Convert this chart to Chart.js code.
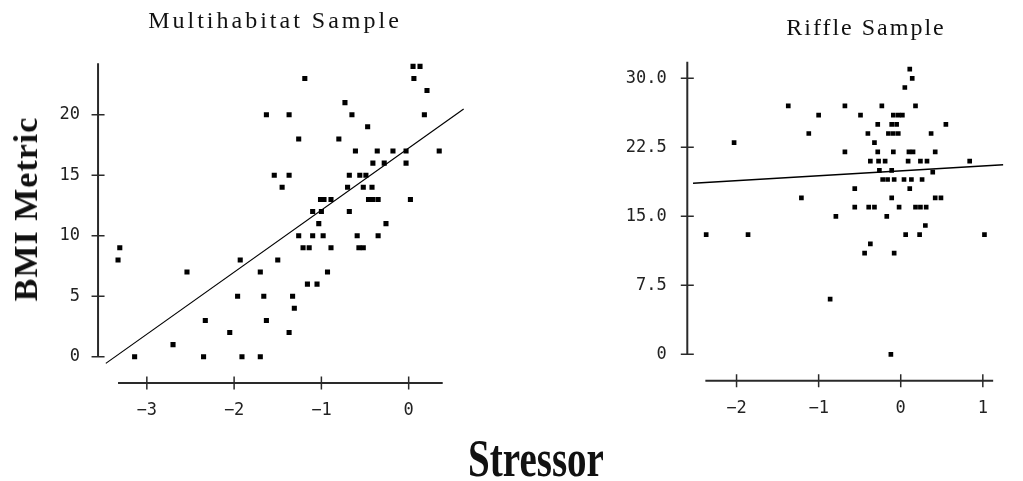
<!DOCTYPE html>
<html>
<head>
<meta charset="utf-8">
<script src="https://cdn.jsdelivr.net/npm/chart.js@4"></script>
<style>
  body { margin: 0; width: 1023px; height: 481px; background: #fff; position: relative; overflow: hidden; }
  canvas { position: absolute; top: 0; }
  #multi { left: 0; }
  #riffle { left: 490px; }
  .txt { position: absolute; font-family: "Liberation Serif", "Times New Roman", serif; color: #111; white-space: nowrap; line-height: 1; }
  #t1 { left: 275px; top: 8px; font-size: 24px; letter-spacing: 3px; transform: translateX(-50%); }
  #t2 { left: 866px; top: 15px; font-size: 24px; letter-spacing: 2px; transform: translateX(-50%); }
  #ylab { left: 26px; top: 209px; font-size: 34px; font-weight: bold; letter-spacing: 1px; transform: translate(-50%, -50%) rotate(-90deg); }
  #xlab { left: 536px; top: 433px; font-size: 52px; font-weight: bold; transform: translateX(-50%) scaleX(0.75); }
</style>
</head>
<body>
<canvas id="multi" width="490" height="440"></canvas>
<canvas id="riffle" width="533" height="440"></canvas>
<div class="txt" id="t1">Multihabitat Sample</div>
<div class="txt" id="t2">Riffle Sample</div>
<div class="txt" id="ylab">BMI Metric</div>
<div class="txt" id="xlab">Stressor</div>
<script>
// Multihabitat sample (stressor vs BMI metric)
const multiX = [-3.31, -3.33, -2.54, -1.93, -1.70, -1.50, -1.96, -1.66, -2.33, -1.63, -2.05, -2.70, -3.14, -2.35, -1.91, -1.70,
  0.05, 0.13, 0.06, 0.21, -1.19, -0.73, -0.65, -1.63, -1.37, 0.18, -0.47, -1.26, -0.80, -0.61, -0.36, -0.18, -0.03, 0.35,
  -0.41, -0.28, -0.03, -1.54, -1.37, -0.68, -0.56, -0.49, -1.45, -0.70, -0.52, -0.42, -1.01, -0.97, -0.89, -0.46, -0.41,
  -0.35, 0.02, -1.10, -1.00, -0.68, -1.03, -0.26, -1.26, -1.10, -0.98, -0.59, -0.35, -1.21, -1.14, -0.89, -0.57, -0.52,
  -0.93, -1.16, -1.05, -1.33, -1.31, -1.37];
const multiY = [9, 8, 7, 8, 7, 8, 5, 5, 3, 3, 2, 1, 0, 0, 0, 0,
  24, 24, 23, 22, 23, 21, 20, 20, 20, 20, 19, 18, 18, 17, 17, 17, 17, 17,
  16, 16, 16, 15, 15, 15, 15, 15, 14, 14, 14, 14, 13, 13, 13, 13, 13,
  13, 13, 12, 12, 12, 11, 11, 10, 10, 10, 10, 10, 9, 9, 9, 9, 9,
  7, 6, 6, 5, 4, 2];
const multiFitX = [-3.47, 0.63];
const multiFitY = [-0.55, 20.47];

// Riffle sample
const riffleX = [-1.37, -1.12, -2.03, -1.21, -2.37, -1.86, 0.11, 0.14, 0.05, -0.68, -0.23, 0.18, -1.00, -0.49, -0.09, -0.03,
  0.02, -0.28, -0.11, -0.05, 0.55, -0.40, -0.15, -0.09, -0.03, 0.37, -0.32, -0.68, -0.28, -0.09, 0.10, 0.15, 0.42,
  -0.37, -0.27, -0.19, 0.09, 0.24, 0.32, 0.84, -0.26, -0.11, 0.39, -0.22, -0.16, -0.08, 0.04, 0.13, 0.26, -0.56, 0.11,
  -0.11, 0.42, 0.49, -0.56, -0.39, -0.32, -0.02, 0.18, 0.24, 0.31, -0.79, -0.17, 0.30, 0.06, 0.23, 1.02, -0.37, -0.44,
  -0.08, -0.86, -0.12];
const riffleY = [27, 24, 23, 17, 13, 13, 31, 30, 29, 27, 27, 27, 26, 26, 26, 26,
  26, 25, 25, 25, 25, 24, 24, 24, 24, 24, 23, 22, 22, 22, 22, 22, 22,
  21, 21, 21, 21, 21, 21, 21, 20, 20, 19.8, 19, 19, 19, 19, 19, 19, 18, 18,
  17, 17, 17, 16, 16, 16, 16, 16, 16, 16, 15, 15, 14, 13, 13, 13, 12, 11,
  11, 6, 0];
const riffleFitX = [-2.53, 1.25];
const riffleFitY = [18.6, 20.6];

// tick labels
const multiXTicks = [-3, -2, -1, 0];
const multiYTicks = [0, 5, 10, 15, 20];
const riffleXTicks = [-2, -1, 0, 1];
const riffleYTicks = [0, 7.5, 15, 22.5, 30];

const pts = (xs, ys) => xs.map((x, i) => ({ x: x, y: ys[i] }));
const tickFont = { family: 'DejaVu Sans Mono', size: 17 };

// detached axis lines with crossing tick marks, old stats-package style
const detachedAxes = {
  id: 'detachedAxes',
  afterDraw(chart, args, o) {
    const { ctx, scales: { x, y } } = chart;
    const ax = x.getPixelForValue(o.yLineAt);
    const ay = y.getPixelForValue(o.xLineAt);
    ctx.save();
    ctx.strokeStyle = '#2a2a2a';
    ctx.lineWidth = 2;
    ctx.beginPath();
    ctx.moveTo(ax, y.getPixelForValue(o.yExtent[1]));
    ctx.lineTo(ax, y.getPixelForValue(o.yExtent[0]));
    ctx.moveTo(x.getPixelForValue(o.xExtent[0]), ay);
    ctx.lineTo(x.getPixelForValue(o.xExtent[1]), ay);
    ctx.stroke();
    ctx.lineWidth = 1.5;
    ctx.beginPath();
    y.ticks.forEach(t => {
      const py = y.getPixelForValue(t.value);
      ctx.moveTo(ax - 6.5, py);
      ctx.lineTo(ax + 6.5, py);
    });
    x.ticks.forEach(t => {
      const px = x.getPixelForValue(t.value);
      ctx.moveTo(px, ay - 6.5);
      ctx.lineTo(px, ay + 6.5);
    });
    ctx.stroke();
    ctx.restore();
  }
};

function makeChart(id, cfg) {
  return new Chart(document.getElementById(id), {
    type: 'scatter',
    data: {
      datasets: [{
        data: pts(cfg.xs, cfg.ys),
        pointStyle: 'rect',
        pointRadius: cfg.r,
        backgroundColor: '#000',
        borderWidth: 0
      }, {
        data: pts(cfg.fitX, cfg.fitY),
        showLine: true,
        pointRadius: 0,
        borderColor: '#000',
        borderWidth: cfg.lw
      }]
    },
    options: {
      responsive: false,
      animation: false,
      layout: { padding: cfg.pad },
      plugins: {
        legend: { display: false },
        tooltip: { enabled: false },
        detachedAxes: cfg.axes
      },
      scales: {
        x: {
          type: 'linear',
          min: cfg.xr[0],
          max: cfg.xr[1],
          grid: { display: false, drawTicks: false },
          border: { display: false },
          afterBuildTicks: s => { s.ticks = cfg.xt.map(v => ({ value: v })); },
          afterFit: s => { s.height = cfg.xh; },
          ticks: {
            font: tickFont,
            color: '#222',
            padding: cfg.xpad,
            maxRotation: 0,
            autoSkip: false,
            callback: v => v < 0 ? '\u2212' + Math.abs(v) : String(v)
          }
        },
        y: {
          type: 'linear',
          min: cfg.yr[0],
          max: cfg.yr[1],
          grid: { display: false, drawTicks: false },
          border: { display: false },
          afterBuildTicks: s => { s.ticks = cfg.yt.map(v => ({ value: v })); },
          afterFit: s => { s.width = cfg.yw; },
          ticks: {
            font: tickFont,
            color: '#222',
            padding: cfg.ypad,
            autoSkip: false,
            callback: cfg.yfmt
          }
        }
      }
    },
    plugins: [detachedAxes]
  });
}

makeChart('multi', {
  xs: multiX, ys: multiY, fitX: multiFitX, fitY: multiFitY,
  r: 3.6, lw: 1.2,
  xr: [-3.5, 0.65], yr: [-0.8, 24.3],
  xt: multiXTicks, yt: multiYTicks,
  pad: { top: 62.7, right: 24.6, left: 0, bottom: 0 },
  xh: 73.6, yw: 103.2, xpad: 34.2, ypad: 23.2,
  yfmt: v => String(v),
  axes: { yLineAt: -3.559, xLineAt: -2.17, xExtent: [-3.33, 0.39], yExtent: [0, 24.25] }
});

makeChart('riffle', {
  xs: riffleX, ys: riffleY, fitX: riffleFitX, fitY: riffleFitY,
  r: 3.3, lw: 1.5,
  xr: [-2.55, 1.25], yr: [-1, 32],
  xt: riffleXTicks, yt: riffleYTicks,
  pad: { top: 59.9, right: 0, left: 0, bottom: 0 },
  xh: 76.5, yw: 201.4, xpad: 34.8, ypad: 24.7,
  yfmt: v => v === 0 ? '0' : v.toFixed(1),
  axes: { yLineAt: -2.60, xLineAt: -2.87, xExtent: [-2.38, 1.126], yExtent: [0, 31.8] }
});
</script>
</body>
</html>
